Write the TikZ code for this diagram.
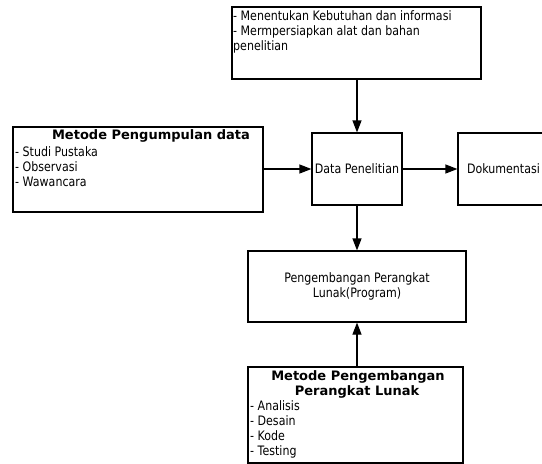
\documentclass[tikz,border=0pt]{standalone}
\usepackage{fontspec}
\setmainfont{DejaVu Sans}[FakeStretch=0.85, BoldFeatures={FakeStretch=1.0}]
\usetikzlibrary{arrows.meta}
\begin{document}
\begin{tikzpicture}[x=1pt,y=-1pt,
  box/.style={draw, line width=1.2pt, rectangle, inner sep=0pt, font=\fontsize{13}{15}\selectfont},
  txt/.style={inner sep=0pt, anchor=base west, font=\fontsize{13}{15}\selectfont},
  ttl/.style={inner sep=0pt, anchor=base, font=\fontsize{13}{15}\selectfont\bfseries},
  arr/.style={line width=1.2pt, -{Triangle[length=12pt,width=9pt]}}]
\useasboundingbox (0,0) rectangle (542,464);
% boxes
\node[box, minimum width=249pt, minimum height=72pt] (top) at (356.5,43) {};
\node[box, minimum width=250pt, minimum height=85pt] (left) at (138,169.5) {};
\node[box, minimum width=90pt, minimum height=72pt] (data) at (357,169) {Data Penelitian};
\node[box, minimum width=91pt, minimum height=72pt] (dok) at (503.5,169) {Dokumentasi};
\node[box, minimum width=218pt, minimum height=71pt, align=center] (peng) at (357,286.5) {Pengembangan Perangkat\\Lunak(Program)};
\node[box, minimum width=215pt, minimum height=96pt] (bot) at (355.5,415) {};
% top texts
\node[txt] (t1) at (233,20) {- Menentukan Kebutuhan dan informasi};
\node[txt] (t2) at (233,35) {- Mermpersiapkan alat dan bahan};
\node[txt] (t3) at (233,50) {penelitian};
% left texts
\node[ttl] (l0) at (151,139) {Metode Pengumpulan data};
\node[txt] (l1) at (15,156) {- Studi Pustaka};
\node[txt] (l2) at (15,171) {- Observasi};
\node[txt] (l3) at (15,186) {- Wawancara};
% bottom texts
\node[ttl] (b0) at (358,380) {Metode Pengembangan};
\node[ttl] (b00) at (357,395) {Perangkat Lunak};
\node[txt] (b1) at (250,410) {- Analisis};
\node[txt] (b2) at (250,425) {- Desain};
\node[txt] (b3) at (250,440) {- Kode};
\node[txt] (b4) at (250,455) {- Testing};
% arrows
\draw[arr] (top.south -| data.north) -- (data.north);
\draw[arr] (left.east |- data.west) -- (data.west);
\draw[arr] (data.east) -- (dok.west);
\draw[arr] (data.south) -- (peng.north -| data.south);
\draw[arr] (bot.north -| peng.south) -- (peng.south);
\end{tikzpicture}
\end{document}
